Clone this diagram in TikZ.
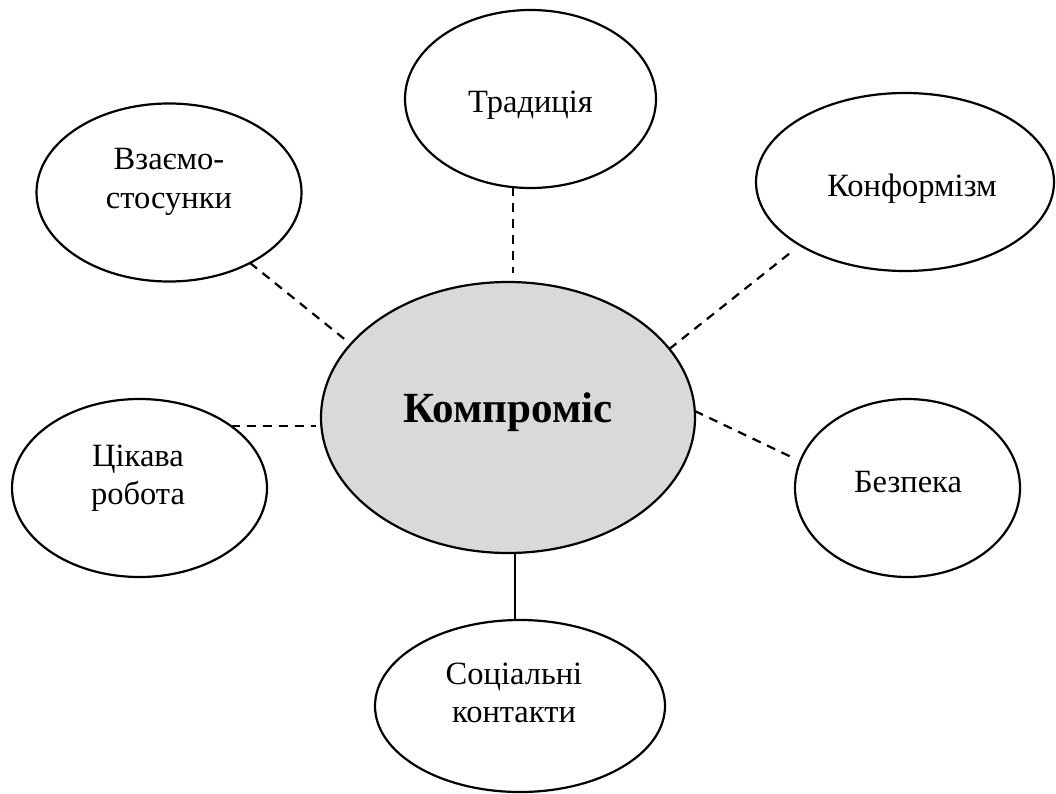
\documentclass[tikz,border=0pt]{standalone}
\usepackage{fontspec}
\setmainfont{Liberation Serif}
\usetikzlibrary{shapes.geometric}
\begin{document}
\begin{tikzpicture}[x=1pt,y=-1pt,
  bubble/.style={draw=black, line width=2.2pt, ellipse, inner sep=0pt, outer sep=0pt},
  label/.style={inner sep=0pt, anchor=base, font=\fontsize{32.5}{38}\selectfont},
  biglabel/.style={inner sep=0pt, anchor=base, font=\fontsize{43}{50}\selectfont\bfseries},
  link/.style={line width=2.2pt, dash pattern=on 9pt off 7pt},
  solidlink/.style={line width=2.2pt}]
\useasboundingbox (0,0) rectangle (1056,794);
% ellipses
\node[bubble, fill=gray!30, minimum width=374pt, minimum height=271pt] (main) at (508,417.5) {};
\node[bubble, minimum width=265pt, minimum height=178pt] (vz) at (169,192.5) {};
\node[bubble, minimum width=251pt, minimum height=178pt] (trad) at (530.5,99) {};
\node[bubble, minimum width=298pt, minimum height=178pt] (konf) at (905,182) {};
\node[bubble, minimum width=255pt, minimum height=178pt] (tsik) at (139.5,488) {};
\node[bubble, minimum width=225pt, minimum height=178pt] (bezp) at (907.5,488) {};
\node[bubble, minimum width=290pt, minimum height=172pt] (soc) at (520,706) {};
% texts
\node[biglabel] (mainT) at (508,422) {Компроміс};
\node[label] (vzT1) at (169,170) {Взаємо-};
\node[label] (vzT2) at (169,208) {стосунки};
\node[label] (tradT) at (530.5,113) {Традиція};
\node[label] (konfT) at (912,197) {Конформізм};
\node[label] (tsikT1) at (138,466) {Цікава};
\node[label] (tsikT2) at (138,504) {робота};
\node[label] (bezpT) at (908,492) {Безпека};
\node[label] (socT1) at (514,684) {Соціальні};
\node[label] (socT2) at (514,722) {контакти};
% connectors
\draw[link, shorten >=8.5pt] (vz.-41) -- (main.155.5);
\draw[link, shorten >=9pt] (trad.-101.1) -- (trad.-101.1 |- main.north);
\draw[link, shorten >=8pt] (main.23.8) -- (konf.-149.1);
\draw[link, shorten >=5pt] (tsik.34.1) -- (tsik.34.1 -| main.west);
\draw[link, shorten >=10pt] (main.2.45) -- (bezp.166.7);
\draw[solidlink] (main.-87.9) -- (main.-87.9 |- soc.north);
\end{tikzpicture}
\end{document}
